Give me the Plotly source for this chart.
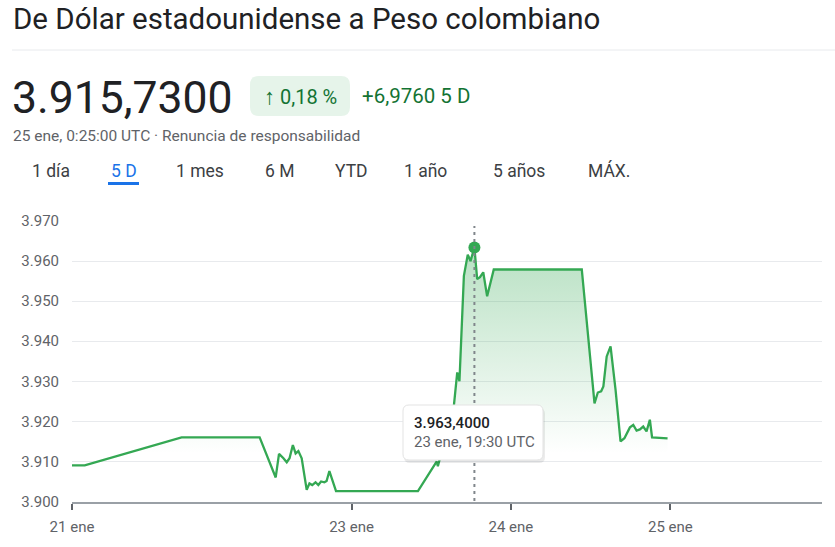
import plotly.graph_objects as go

W, H = 835, 547

# ---------- datos ----------
fechas = [
    "2025-01-21 05:55", "2025-01-21 07:50", "2025-01-21 22:25", "2025-01-22 10:10",
    "2025-01-22 12:35", "2025-01-22 13:05", "2025-01-22 13:45", "2025-01-22 14:15",
    "2025-01-22 14:40", "2025-01-22 15:10", "2025-01-22 15:35", "2025-01-22 16:00",
    "2025-01-22 16:30", "2025-01-22 17:15", "2025-01-22 17:40", "2025-01-22 18:05",
    "2025-01-22 18:35", "2025-01-22 19:00", "2025-01-22 19:25", "2025-01-22 19:55",
    "2025-01-22 20:15", "2025-01-22 20:40", "2025-01-22 21:40",
    "2025-01-23 10:00", "2025-01-23 12:50", "2025-01-23 13:00", "2025-01-23 15:25",
    "2025-01-23 15:55", "2025-01-23 16:15", "2025-01-23 16:55", "2025-01-23 17:30",
    "2025-01-23 17:55", "2025-01-23 18:30", "2025-01-23 18:55", "2025-01-23 19:20",
    "2025-01-23 19:50", "2025-01-23 20:25", "2025-01-23 21:25",
    "2025-01-24 10:40", "2025-01-24 12:35", "2025-01-24 13:05", "2025-01-24 13:35",
    "2025-01-24 13:55", "2025-01-24 14:25", "2025-01-24 15:00", "2025-01-24 15:45",
    "2025-01-24 16:30", "2025-01-24 17:05", "2025-01-24 17:55", "2025-01-24 18:25",
    "2025-01-24 18:55", "2025-01-24 19:25", "2025-01-24 19:55", "2025-01-24 20:25",
    "2025-01-24 20:55", "2025-01-24 21:15", "2025-01-24 23:35",
]
valores = [
    3909.0, 3909.0, 3916.0, 3916.0,
    3906.0, 3911.9, 3910.8, 3909.8,
    3910.8, 3914.1, 3912.0, 3912.6,
    3910.8, 3902.9, 3904.5, 3904.1,
    3904.8, 3904.1, 3905.0, 3904.8,
    3905.1, 3907.6, 3902.6,
    3902.6, 3910.0, 3908.8, 3924.0,
    3932.2, 3930.0, 3956.3, 3961.6,
    3960.0, 3963.4, 3955.5, 3956.0,
    3957.2, 3951.2, 3957.9,
    3957.9, 3924.5, 3927.2, 3927.5,
    3928.7, 3936.2, 3938.7, 3927.9,
    3915.0, 3915.8, 3918.5, 3919.1,
    3917.7, 3918.0, 3918.7, 3917.5,
    3920.4, 3916.0, 3915.73,
]

y_ticks = [3900, 3910, 3920, 3930, 3940, 3950, 3960, 3970]
x_ticks = ["2025-01-21 05:55", "2025-01-23 00:00", "2025-01-24 00:00", "2025-01-25 00:00"]
x_tick_text = ["21 ene", "23 ene", "24 ene", "25 ene"]
x_fin = "2025-01-25 22:50"

titulo = "De Dólar estadounidense a Peso colombiano"
precio = "3.915,7300"
flecha = "↑"
variacion_pct = "0,18 %"
variacion_abs = "+6,9760 5 D"
subtitulo = "25 ene, 0:25:00 UTC · Renuncia de responsabilidad"
pestanas = ["1 día", "5 D", "1 mes", "6 M", "YTD", "1 año", "5 años", "MÁX."]
pestana_activa = "5 D"
tooltip_valor = "3.963,4000"
tooltip_fecha = "23 ene, 19:30 UTC"

# ---------- estilos ----------
VERDE = "#34a853"
VERDE_TXT = "#137333"
GRIS = "#5f6368"
NEGRO = "#202124"
AZUL = "#1a73e8"
FONT = "Roboto"

pestanas_x = [51, 123.5, 200, 279, 351, 425, 519, 608.5]


def px_x(X):
    return X / W


def px_y(Y):
    return 1 - Y / H


def rounded_rect(x0, y0, x1, y1, r):
    # rectangulo redondeado en pixeles -> path en coordenadas paper
    pts = [
        ("M", x0 + r, y0), ("L", x1 - r, y0), ("Q", x1, y0, x1, y0 + r),
        ("L", x1, y1 - r), ("Q", x1, y1, x1 - r, y1), ("L", x0 + r, y1),
        ("Q", x0, y1, x0, y1 - r), ("L", x0, y0 + r), ("Q", x0, y0, x0 + r, y0),
    ]
    out = ""
    for p in pts:
        coords = p[1:]
        s = " ".join(
            f"{px_x(coords[i]):.5f},{px_y(coords[i + 1]):.5f}" for i in range(0, len(coords), 2)
        )
        out += f"{p[0]} {s} "
    return out + "Z"


i_max = valores.index(max(valores))

fig = go.Figure()

fig.add_trace(go.Scatter(
    x=fechas,
    y=valores,
    mode="lines",
    line=dict(color=VERDE, width=2.3),
    fill="tozeroy",
    fillgradient=dict(
        type="vertical",
        colorscale=[[0, "rgba(52,168,83,0)"], [1, "rgba(52,168,83,0.34)"]],
        start=3912,
        stop=3962,
    ),
    hoverinfo="skip",
))

fig.add_trace(go.Scatter(
    x=[fechas[i_max]],
    y=[valores[i_max]],
    mode="markers",
    marker=dict(color=VERDE, size=12),
    hoverinfo="skip",
))

shapes = [
    # separador bajo el titulo
    dict(type="line", xref="paper", yref="paper", x0=px_x(12), x1=1, y0=px_y(50), y1=px_y(50),
         line=dict(color="#e8eaed", width=1)),
    # badge de variacion
    dict(type="path", xref="paper", yref="paper", path=rounded_rect(250, 76, 350, 116, 9),
         fillcolor="#e6f4ea", line=dict(width=0)),
    # subrayado pestaña activa
    dict(type="rect", xref="paper", yref="paper", x0=px_x(108), x1=px_x(139),
         y0=px_y(185), y1=px_y(182), fillcolor=AZUL, line=dict(width=0)),
    # linea punteada del cursor
    dict(type="line", xref="x", yref="paper", x0=fechas[i_max], x1=fechas[i_max],
         y0=px_y(501), y1=px_y(226), line=dict(color="#80868b", width=2, dash="3px,4px"),
         layer="above"),
    # sombra y caja del tooltip
    dict(type="path", xref="paper", yref="paper", path=rounded_rect(404, 408, 545, 463, 6),
         fillcolor="rgba(0,0,0,0.08)", line=dict(width=0), layer="above"),
    dict(type="path", xref="paper", yref="paper", path=rounded_rect(403, 405, 543, 460, 6),
         fillcolor="white", line=dict(color="#e3e3e3", width=1), layer="above"),
]

annotations = [
    dict(text=titulo, x=px_x(11), y=px_y(19.5), font=dict(size=29.5, color=NEGRO)),
    dict(text=precio, x=px_x(10), y=px_y(97.5), font=dict(size=44.5, color=NEGRO)),
    dict(text=f"<span style='font-size:22px'>{flecha}</span> {variacion_pct}",
         x=px_x(300), y=px_y(96), xanchor="center", font=dict(size=20, color=VERDE_TXT)),
    dict(text=variacion_abs, x=px_x(360), y=px_y(96), font=dict(size=20.5, color=VERDE_TXT)),
    dict(text=subtitulo, x=px_x(11), y=px_y(135.5), font=dict(size=15.5, color=GRIS)),
    dict(text=tooltip_valor, x=px_x(412), y=px_y(423), font=dict(size=15, color=NEGRO, weight=500)),
    dict(text=tooltip_fecha, x=px_x(412), y=px_y(442), font=dict(size=15, color=GRIS)),
]
for nombre, xc in zip(pestanas, pestanas_x):
    annotations.append(dict(
        text=nombre, x=px_x(xc), y=px_y(170.5), xanchor="center",
        font=dict(size=17.5, color=AZUL if nombre == pestana_activa else "#3c4043"),
    ))
for a in annotations:
    a.setdefault("xref", "paper")
    a.setdefault("yref", "paper")
    a.setdefault("xanchor", "left")
    a.setdefault("yanchor", "middle")
    a["showarrow"] = False
    a["font"]["family"] = FONT

fig.update_layout(
    width=W,
    height=H,
    margin=dict(l=0, r=0, t=0, b=0),
    paper_bgcolor="white",
    plot_bgcolor="white",
    showlegend=False,
    separators=",.",
    font=dict(family=FONT, color=GRIS),
    shapes=shapes,
    annotations=annotations,
    xaxis=dict(
        domain=[px_x(72), px_x(822)],
        type="date",
        range=[fechas[0], x_fin],
        tickvals=x_ticks,
        ticktext=x_tick_text,
        showgrid=False,
        zeroline=False,
        showline=True,
        linecolor="#9aa0a6",
        linewidth=2,
        ticks="outside",
        ticklen=6,
        tickwidth=2,
        tickcolor=GRIS,
        ticklabelstandoff=4,
        tickfont=dict(size=15, color=GRIS),
        automargin=False,
        fixedrange=True,
    ),
    yaxis=dict(
        domain=[px_y(501.5), px_y(221)],
        range=[3900, 3970],
        tickvals=y_ticks,
        tickformat=",d",
        showgrid=True,
        gridcolor="#e8eaed",
        gridwidth=1,
        zeroline=False,
        showline=False,
        ticks="",
        ticklabelstandoff=12,
        tickfont=dict(size=15, color=GRIS),
        automargin=False,
        fixedrange=True,
    ),
)

# sin el margen por defecto del body, la figura ocupa la ventana entera
fig.write_html(
    "out.html",
    config={"displayModeBar": False},
    post_script="document.body.style.margin = '0';",
)
